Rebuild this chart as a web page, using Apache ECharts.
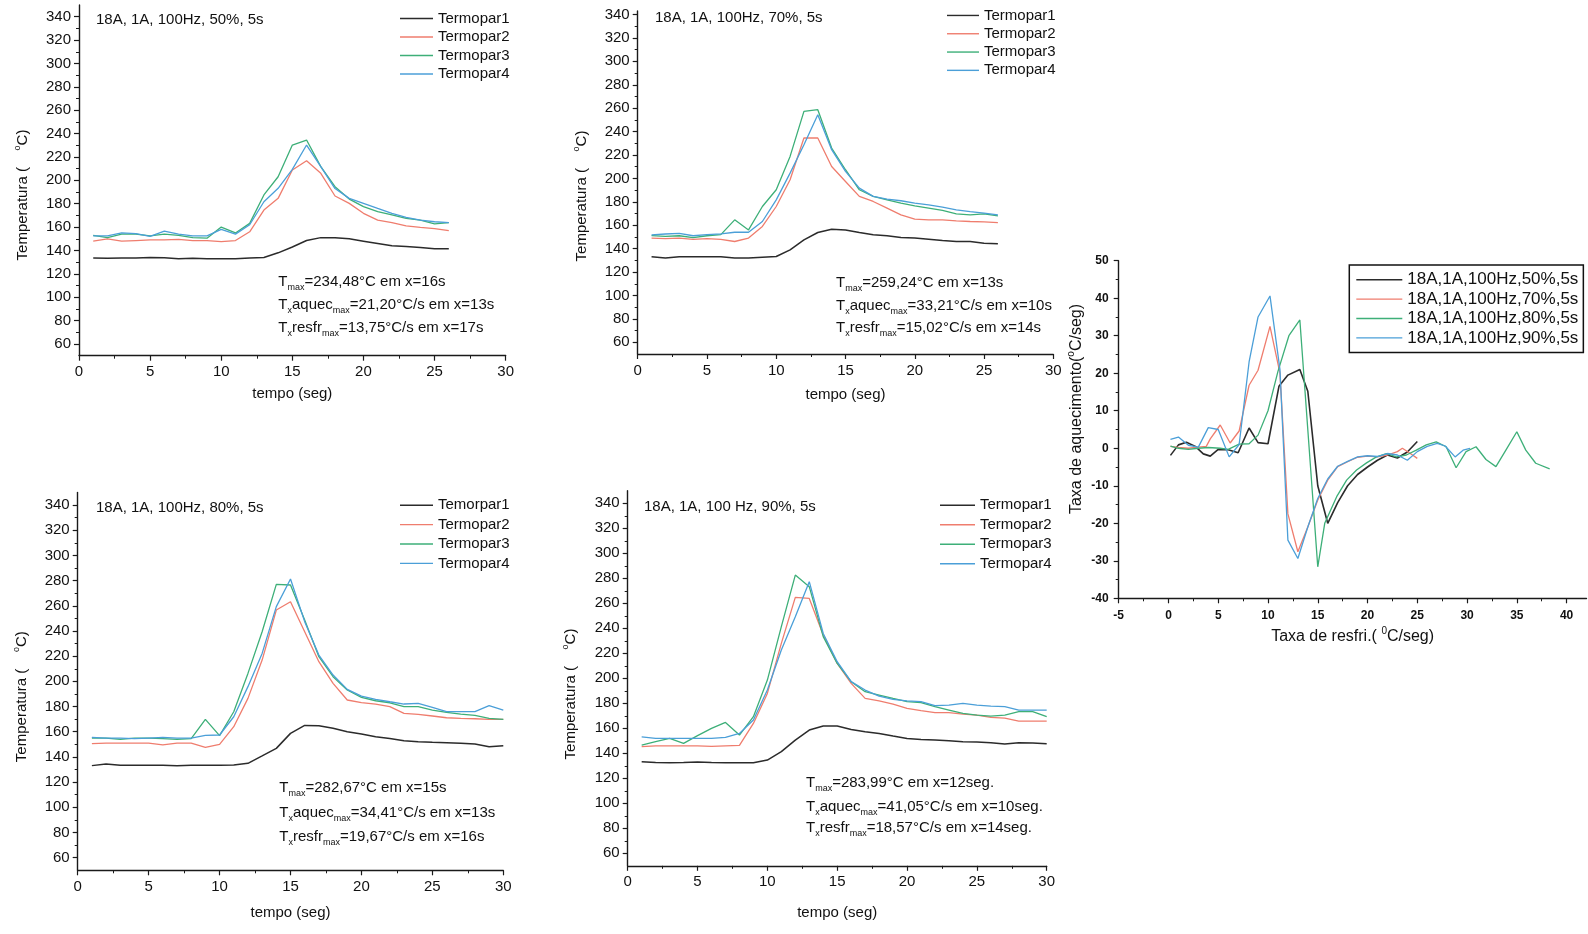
<!DOCTYPE html>
<html><head><meta charset="utf-8">
<script src="https://cdn.jsdelivr.net/npm/echarts@6/dist/echarts.min.js"></script>
<style>html,body{margin:0;padding:0;background:#fff;}#c{width:1588px;height:934px;}</style>
</head><body><div id="c"></div>
<script>
// ---------------- DATA ----------------
const t26 = [1,2,3,4,5,6,7,8,9,10,11,12,13,14,15,16,17,18,19,20,21,22,23,24,25,26];
const t30 = [1,2,3,4,5,6,7,8,9,10,11,12,13,14,15,16,17,18,19,20,21,22,23,24,25,26,27,28,29,30];

// 18A, 1A, 100Hz, 50%, 5s
const T1_50 = [133.5,133.3,133.5,133.5,134,133.7,133,133.3,133,133,133,133.5,134,138,143,148.5,151,151,150,148,146,144,143.5,142.5,141.5,141.5];
const T2_50 = [148,150,148,148.5,149,149,149.5,148.5,148.5,147.5,148.5,156,174.6,184.6,208.8,216.8,206,186.6,180.3,171.8,166,163.8,161,159.8,158.7,157];
const T3_50 = [153,151,154,154,152.5,154,153,151,150.5,160,155,163.2,187.5,203.1,230.2,234.5,211.7,194.6,184,177.5,173.2,170.4,167.5,166,162.7,163.8];
const T4_50 = [152.5,152.5,155,154.5,152,156.5,154,152.5,152.5,158,154,162,181.7,193.2,209.4,230.2,211.7,193,184.6,180.3,176,171.8,168.3,166,164.6,163.8];

// 18A, 1A, 100Hz, 70%, 5s
const T1_70 = [133,132,133,133,133,133,132,132,132.7,133.3,139,147.5,153.8,156.6,156,153.8,151.8,151,149.5,149,148.1,147,146.1,146,144.7,144.1];
const T2_70 = [149,148.5,149,148,148.5,148,146.1,149,159,176,198.8,234.5,234.5,210.2,197.4,184.6,180.3,174.6,168.9,165.2,164.6,164.6,163.8,163.2,162.9,162.3];
const T3_70 = [151.2,150.5,151,149.5,151,152,164.6,156,176,190.3,218.8,257.3,258.7,225.9,207.4,190.3,184.6,181.7,178.9,176.6,174.6,172.6,169.7,168.9,169.7,168];
const T4_70 = [151.8,152.5,153,151,152,152.6,154,154,163.2,181.7,204.5,228.8,254.4,224.5,206,191.7,184.6,182.3,180.9,178.9,177.4,175.4,173.2,171.7,170.3,168.9];

// 18A, 1A, 100Hz, 80%, 5s
const T1_80 = [133.1,134.4,133.4,133.4,133.4,133.4,133,133.4,133.4,133.4,133.6,134.9,140.8,146.8,158.7,165,164.8,162.7,160,158.2,156.1,154.7,152.9,152.1,151.6,151.3,150.8,150.2,148.1,148.9];
const T2_80 = [150.5,151,151,151,151,149.5,151,151,147.6,150,164,186.5,216.9,256.6,263.2,239.4,215.6,198.4,185.2,183.1,182,179.9,174.6,173.8,172.5,171.1,170.6,170.3,169.8,169.8];
const T3_80 = [155,155,154,155,155,154.5,154,154.5,169.8,156.9,175.9,206.3,239.4,277,276.5,248.7,219.6,203.7,193.1,187.3,184.6,183,179.9,179.9,177.2,175.4,174,173,170.6,169.8];
const T4_80 = [155.5,155,155,154.5,155,155.5,155,155,157.1,157.4,171.9,195.8,222.2,259.3,281.2,247.4,220.9,205,193.6,188.3,185.7,183.8,182,182.5,179.3,175.9,175.9,175.9,180.7,177.2];

// 18A, 1A, 100 Hz, 90%, 5s
const T1_90 = [133.3,132.7,132.5,132.7,133,132.7,132.5,132.5,132.5,134.6,141.3,150.6,158.6,161.8,161.8,159.1,157.3,155.9,153.8,151.9,151.1,150.6,150,149.3,149,148.4,147.4,148.4,148.2,147.6];
const T2_90 = [145.3,146,146,146,146,145.5,146,146.3,163.9,187.9,227.9,264.7,263.9,234.6,211.9,195.9,183.9,182,179.4,175.9,174.1,172.5,172.5,171.4,170.6,168.7,168.2,165.8,165.8,165.8];
const T3_90 = [146.6,149.3,151.9,147.9,154.1,159.9,164.7,154.6,169.3,198.6,241.3,282.6,273.3,233.3,211.9,197.3,189.3,186.6,183.9,181.3,180.5,177.3,174.6,171.9,170.6,169.8,170.6,173.3,173.3,169.3];
const T4_90 = [153.2,152,151.9,151.9,151.9,151.9,152.7,155.9,166.6,190.6,222.6,249.3,277.3,235.9,213.3,197.3,190.6,185.8,183.1,182,181.3,178.1,178.6,180,178.6,177.8,177.3,174.6,174.6,174.6];

// rate panel
const rate50_x = [0.2,1,1.8,2.7,3.5,4.2,5,6,7,8.1,9,10,11.1,12,13.2,14,15,16,17,18,19,20,21,22,23,24,25];
const rate50_y = [-1.9,0.9,1.6,0.5,-1.5,-2.1,-0.3,-0.4,-1.2,5.4,1.5,1.2,16.5,19.5,21,15.2,-10,-20,-14.5,-10,-7,-5,-3.2,-1.8,-2.6,-1,1.8];
const rate70_x = [0.2,1,2,3,3.8,4.2,5.2,6.2,7.1,8.1,9,10.2,11.2,12,13,14,15,16,17,18,19,20,21,22,23,23.5,24.3,25];
const rate70_y = [0.5,0.2,0,0.3,0.5,2.5,6.2,1.4,4.6,16.8,20.8,32.5,20,-17.5,-27.6,-21,-13.8,-8.5,-4.9,-3.6,-2.4,-2.1,-2.3,-1.8,-0.9,0,-1.4,-2.7];
const rate80_x = [0.2,1,2,3,4,5.2,6,7.1,8.1,9,10,11,12.1,13.2,15,15.7,16.9,17.9,18.9,19.9,20.9,21.9,22.9,23.9,24.9,25.9,26.9,27.9,28.9,29.9,30.9,31.9,32.9,33.9,35,35.9,36.9,38.3];
const rate80_y = [0.6,0,-0.3,0,0.2,0,-0.3,1.1,1.2,3.5,10,20.5,30,34.2,-31.6,-20,-12.9,-8.5,-5.8,-3.9,-2.3,-1.4,-2.3,-1.8,-0.5,0.9,1.7,0.4,-5.2,-0.9,0.4,-3,-4.9,-0.5,4.4,-0.5,-4,-5.5];
const rate90_x = [0.2,1,2,3,4,5,6.1,7.1,8.1,9,10.2,11.2,12,13,14,15,16,17,18,19,20,21,22,23,24,25,26,27,27.8,28.8,29.6,30.3];
const rate90_y = [2.4,3,0.8,0.3,5.5,5,-2.3,1,23,35,40.6,21,-24.5,-29.4,-21,-13.4,-8.2,-4.8,-3.5,-2.3,-2,-2.2,-1.4,-1.8,-3.2,-0.9,0.5,1.3,0.6,-2.3,-0.5,0];

// tick labels
const yTickLabels = [60,80,100,120,140,160,180,200,220,240,260,280,300,320,340];
const yMinorTicks = [70,90,110,130,150,170,190,210,230,250,270,290,310,330];
const rateXTicks = [-5,0,5,10,15,20,25,30,35,40];

const panelTitles = ['18A, 1A, 100Hz, 50%, 5s','18A, 1A, 100Hz, 70%, 5s','18A, 1A, 100Hz, 80%, 5s','18A, 1A, 100 Hz, 90%, 5s'];
const legendNames = [
  ['Termopar1','Termopar2','Termopar3','Termopar4'],
  ['Termopar1','Termopar2','Termopar3','Termopar4'],
  ['Temorpar1','Termopar2','Termopar3','Termopar4'],
  ['Termopar1','Termopar2','Termopar3','Termopar4']
];
const rateNames = ['18A,1A,100Hz,50%,5s','18A,1A,100Hz,70%,5s','18A,1A,100Hz,80%,5s','18A,1A,100Hz,90%,5s'];
const notes = [
  ['234,48°C em x=16s','21,20°C/s em x=13s','13,75°C/s em x=17s'],
  ['259,24°C em x=13s','33,21°C/s em x=10s','15,02°C/s em x=14s'],
  ['282,67°C em x=15s','34,41°C/s em x=13s','19,67°C/s em x=16s'],
  ['283,99°C em x=12seg.','41,05°C/s em x=10seg.','18,57°C/s em x=14seg.']
];

// ---------------- LAYOUT / STYLE ----------------
const FONT = "'Liberation Sans', Arial, Helvetica, sans-serif";
const COLORS = ['#2b2b2b', '#ef7d6e', '#3daf78', '#4b9fd8'];
const INK = '#111';

const panelData = [
  {t: t26, s: [T1_50, T2_50, T3_50, T4_50]},
  {t: t26, s: [T1_70, T2_70, T3_70, T4_70]},
  {t: t30, s: [T1_80, T2_80, T3_80, T4_80]},
  {t: t30, s: [T1_90, T2_90, T3_90, T4_90]}
];
const grids = [
  {left: 79, top: 5, width: 426.7, height: 350.7},
  {left: 637.7, top: 11, width: 415.6, height: 343},
  {left: 77.7, top: 492.4, width: 425.6, height: 377.9},
  {left: 627.7, top: 490.8, width: 419, height: 375},
  {left: 1118.7, top: 260.7, width: 467.8, height: 337.6}
];
const yMax = [350, 343, 350, 350];
const xNameGap = [31, 33, 35, 40];
const legendPos = [
  {left: 400, top: 9.3, lh: 18.5, iw: 33},
  {left: 947, top: 6.3, lh: 18.3, iw: 32},
  {left: 400, top: 495.5, lh: 19.4, iw: 33},
  {left: 940, top: 495.5, lh: 19.5, iw: 35}
];
const titlePos = [[96, 20], [655, 18], [96, 508], [644, 507]];
const notePos = [
  [278.3, [281.7, 305, 328.3]],
  [836, [283.3, 306, 328.3]],
  [279.3, [788.3, 813.3, 836.7]],
  [806, [783.3, 806.7, 828.3]]
];
const yNamePos = [[23, 195], [581.7, 196], [21.7, 696.7], [570.7, 694]];

const axisLineStyle = {color: '#1a1a1a', width: 1.4};
const pairs = (xs, ys) => xs.map((x, i) => [x, ys[i]]);

const option = {
  animation: false,
  backgroundColor: '#fff',
  grid: grids.map(g => Object.assign({outerBoundsMode: 'none', containLabel: false}, g)),
  xAxis: [], yAxis: [], series: [], legend: [], graphic: []
};

for (let i = 0; i < 4; i++) {
  option.xAxis.push({
    gridIndex: i, type: 'value', min: 0, max: 30, interval: 5,
    axisLine: {show: true, onZero: false, lineStyle: axisLineStyle},
    axisTick: {show: true, length: 5, lineStyle: {color: '#1a1a1a', width: 1.2}},
    minorTick: {show: true, splitNumber: 2, length: 3, lineStyle: {color: '#1a1a1a', width: 1}},
    splitLine: {show: false}, minorSplitLine: {show: false},
    axisLabel: {fontSize: 15, color: INK, margin: 9, fontFamily: FONT},
    name: 'tempo (seg)', nameLocation: 'middle', nameGap: xNameGap[i],
    nameTextStyle: {fontSize: 15, color: INK, fontFamily: FONT}
  });
  option.yAxis.push({
    gridIndex: i, type: 'value', position: 'left', min: 50, max: yMax[i], interval: 10,
    axisLine: {show: true, onZero: false, lineStyle: axisLineStyle},
    axisTick: {show: true, length: 5, customValues: yTickLabels, lineStyle: {color: '#1a1a1a', width: 1.2}},
    axisLabel: {customValues: yTickLabels, fontSize: 15, color: INK, margin: 8, fontFamily: FONT,
      formatter: v => (v % 20 === 0 && v >= 60 && v <= 340) ? String(v) : ''},
    splitLine: {show: false}
  });
  option.yAxis.push({
    gridIndex: i, type: 'value', position: 'left', offset: 0, min: 50, max: yMax[i], interval: 10,
    axisLine: {show: false, onZero: false},
    axisTick: {show: true, length: 3, customValues: yMinorTicks, lineStyle: {color: '#1a1a1a', width: 1}},
    axisLabel: {show: false}, splitLine: {show: false}
  });
  const pd = panelData[i];
  for (let k = 0; k < 4; k++) {
    option.series.push({
      type: 'line', name: legendNames[i][k], xAxisIndex: i, yAxisIndex: 2 * i,
      data: pairs(pd.t, pd.s[k]), symbol: 'none', smooth: false,
      lineStyle: {color: COLORS[k], width: k === 0 ? 1.5 : 1.3}, itemStyle: {color: COLORS[k]}
    });
  }
  const lp = legendPos[i];
  option.legend.push({
    orient: 'vertical', left: lp.left, top: lp.top, padding: 0, itemGap: 0,
    icon: 'rect', itemWidth: lp.iw, itemHeight: 1.4, selectedMode: false,
    data: legendNames[i],
    textStyle: {fontSize: 15, color: INK, fontFamily: FONT, lineHeight: lp.lh}
  });
  option.graphic.push({type: 'text', x: titlePos[i][0], y: titlePos[i][1], silent: true,
    style: {text: panelTitles[i], fill: INK, fontSize: 15, fontFamily: FONT, align: 'left', verticalAlign: 'middle'}});
  const rich = {
    n: {fontSize: 15, lineHeight: 20, fontFamily: FONT},
    s: {fontSize: 9, lineHeight: 5, fontFamily: FONT, verticalAlign: 'bottom'}
  };
  const lines = [
    '{n|T}{s|max}{n|=' + notes[i][0] + '}',
    '{n|T}{s|x}{n|aquec}{s|max}{n|=' + notes[i][1] + '}',
    '{n|T}{s|x}{n|resfr}{s|max}{n|=' + notes[i][2] + '}'
  ];
  for (let j = 0; j < 3; j++) {
    option.graphic.push({type: 'text', x: notePos[i][0], y: notePos[i][1][j], silent: true,
      style: {text: lines[j], rich: rich, fill: INK, fontSize: 15, fontFamily: FONT, align: 'left', verticalAlign: 'middle'}});
  }
  option.graphic.push({type: 'text', x: yNamePos[i][0], y: yNamePos[i][1], rotation: Math.PI / 2, silent: true,
    style: {text: '{n|Temperatura (    }{p|o}{n|C)}', fill: INK, fontSize: 15, fontFamily: FONT,
      align: 'center', verticalAlign: 'middle',
      rich: {n: {fontSize: 15, lineHeight: 20, fontFamily: FONT},
             p: {fontSize: 9, lineHeight: 8, fontFamily: FONT, verticalAlign: 'top'}}}});
}

// ---- rate panel ----
option.xAxis.push({
  gridIndex: 4, type: 'value', min: -5, max: 42, interval: 5,
  axisLine: {show: true, onZero: false, lineStyle: axisLineStyle},
  axisTick: {show: true, length: 5, customValues: rateXTicks, lineStyle: {color: '#1a1a1a', width: 1.2}},
  minorTick: {show: true, splitNumber: 2, length: 3, lineStyle: {color: '#1a1a1a', width: 1}},
  splitLine: {show: false}, minorSplitLine: {show: false},
  axisLabel: {customValues: rateXTicks, fontSize: 12, fontWeight: 'bold', color: INK, margin: 11, fontFamily: FONT,
    formatter: v => v > 40 ? '' : String(v)},
  name: '{n|Taxa de resfri.( }{p|0}{n|C/seg)}', nameLocation: 'middle', nameGap: 28,
  nameTextStyle: {rich: {
    n: {fontSize: 16, lineHeight: 20, color: INK, fontFamily: FONT},
    p: {fontSize: 10, lineHeight: 8, color: INK, fontFamily: FONT, verticalAlign: 'top'}}}
});
option.yAxis.push({
  gridIndex: 4, type: 'value', position: 'left', min: -40, max: 50, interval: 10,
  axisLine: {show: true, onZero: false, lineStyle: axisLineStyle},
  axisTick: {show: true, length: 5, lineStyle: {color: '#1a1a1a', width: 1.2}},
  minorTick: {show: true, splitNumber: 2, length: 3, lineStyle: {color: '#1a1a1a', width: 1}},
  splitLine: {show: false}, minorSplitLine: {show: false},
  axisLabel: {fontSize: 12, fontWeight: 'bold', color: INK, margin: 10, fontFamily: FONT}
});
const rateSets = [[rate50_x, rate50_y], [rate70_x, rate70_y], [rate80_x, rate80_y], [rate90_x, rate90_y]];
rateSets.forEach((rs, k) => {
  option.series.push({
    type: 'line', name: rateNames[k], xAxisIndex: 4, yAxisIndex: 8,
    data: pairs(rs[0], rs[1]), symbol: 'none', smooth: false,
    lineStyle: {color: COLORS[k], width: k === 0 ? 1.6 : 1.3}, itemStyle: {color: COLORS[k]}
  });
});
option.legend.push({
  orient: 'vertical', left: 1349.3, top: 265, padding: [5, 5, 5, 7], itemGap: 0,
  icon: 'rect', itemWidth: 46, itemHeight: 1.4, selectedMode: false,
  borderColor: '#111', borderWidth: 1.5, borderRadius: 0,
  data: rateNames,
  textStyle: {fontSize: 17, color: INK, fontFamily: FONT, lineHeight: 19.4}
});
option.graphic.push({type: 'text', x: 1076.7, y: 409, rotation: Math.PI / 2, silent: true,
  style: {text: '{n|Taxa de aquecimento(}{p|o}{n|C/seg)}', fill: INK, fontSize: 16, fontFamily: FONT,
    align: 'center', verticalAlign: 'middle',
    rich: {n: {fontSize: 16, lineHeight: 20, fontFamily: FONT},
           p: {fontSize: 10, lineHeight: 8, fontFamily: FONT, verticalAlign: 'top'}}}});

const chart = echarts.init(document.getElementById('c'), null, {renderer: 'canvas'});
chart.setOption(option);
</script>
</body></html>
